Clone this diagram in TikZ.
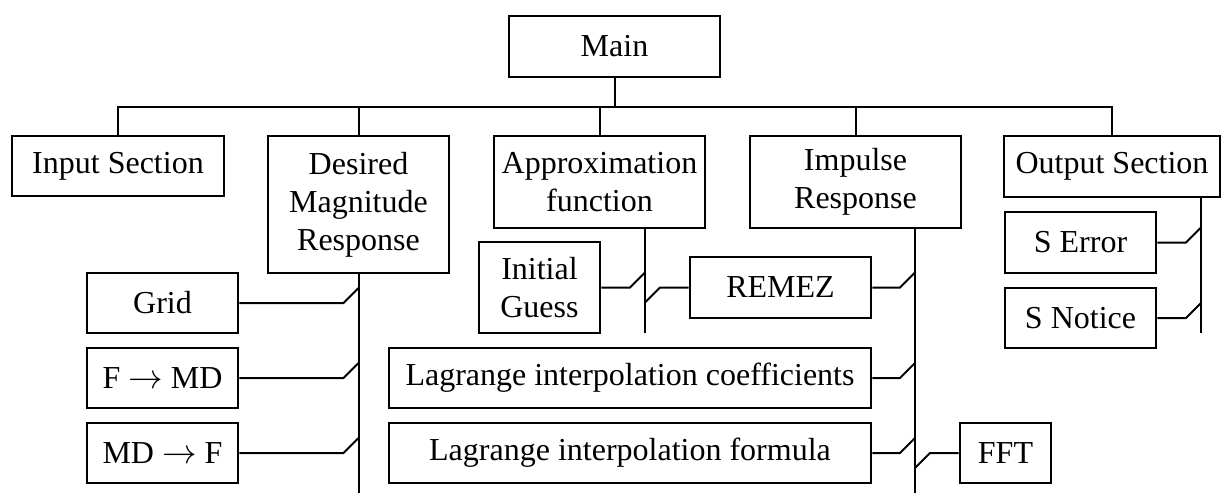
\documentclass[tikz,border=0pt]{standalone}
\usepackage{fontspec}
\setmainfont{Liberation Serif}
\usetikzlibrary{calc}
\tikzset{
  box/.style={draw, line width=1.3pt, inner sep=0pt, align=center, font=\fontsize{16}{19}\selectfont},
  sz/.style 2 args={minimum width=#1*0.5pt, minimum height=#2*0.5pt},
  link/.style={line width=1pt},
}
\begin{document}
\begin{tikzpicture}[x=0.5pt, y=-0.5pt]
  \useasboundingbox (0,0) rectangle (1222,493);

  %%%%% BOXES %%%%%
  \node[box, sz={211}{61}] (main) at (614.5,46.5) {Main};

  \node[box, sz={212}{60}] (input) at (118,166) {Input Section};
  \node[box, sz={181}{137}] (desired) at (358.5,204.5) {Desired\\Magnitude\\Response};
  \node[box, sz={211}{92}] (approx) at (599.5,182) {Approximation\\function};
  \node[box, sz={211}{92}] (impulse) at (855.5,182) {Impulse\\Response};
  \node[box, sz={216}{61}] (output) at (1112,166.5) {Output Section};

  \node[box, sz={151}{60}] (grid) at (162.5,303) {Grid};
  \node[box, sz={151}{60}] (fmd) at (162.5,378) {F $\rightarrow$ MD};
  \node[box, sz={151}{60}] (mdf) at (162.5,453) {MD $\rightarrow$ F};

  \node[box, sz={121}{91}] (guess) at (539.5,287.5) {Initial\\Guess};
  \node[box, sz={181}{61}] (remez) at (780.5,287.5) {REMEZ};
  \node[box, sz={482}{60}] (lcoef) at (630,378) {Lagrange interpolation coefficients};
  \node[box, sz={482}{60}] (lform) at (630,453) {Lagrange interpolation formula};
  \node[box, sz={91}{60}] (fft) at (1005.5,453) {FFT};

  \node[box, sz={151}{61}] (serr) at (1080.5,242.5) {S Error};
  \node[box, sz={151}{60}] (snot) at (1080.5,318) {S Notice};

  %%%%% TREE %%%%%
  \coordinate (bus) at (0,107);
  \draw[link] (main.south) -- (main.south |- bus);
  \draw[link] (input.north) -- (input.north |- bus) -- (output.north |- bus) -- (output.north);
  \foreach \n in {desired,approx,impulse}
    \draw[link] (\n.north) -- (\n.north |- bus);

  %%%%% BRANCH LINES %%%%%
  \coordinate (dend) at (358.5,493);
  \coordinate (atop) at (645,228);
  \coordinate (aend) at (645,333);
  \coordinate (itop) at (915,228);
  \coordinate (iend) at (915,493);
  \coordinate (otop) at (1201,197);
  \coordinate (oend) at (1201,333);
  \draw[link] (desired.south) -- (dend);
  \draw[link] (atop) -- (aend);
  \draw[link] (itop) -- (iend);
  \draw[link] (otop) -- (oend);

  %% joints to the left of a line
  \foreach \b/\l in {grid/dend, fmd/dend, mdf/dend, guess/aend, remez/iend, lcoef/iend, lform/iend, serr/oend, snot/oend}
    \draw[link] (\b.east) -- ($(\b.east -| \l)+(-15,0)$) -- ++(15,-15);

  %% joints to the right of a line
  \foreach \b/\l in {remez/aend, fft/iend}
    \draw[link] (\b.west) -- ($(\b.west -| \l)+(15,0)$) -- ++(-15,15);
\end{tikzpicture}
\end{document}
